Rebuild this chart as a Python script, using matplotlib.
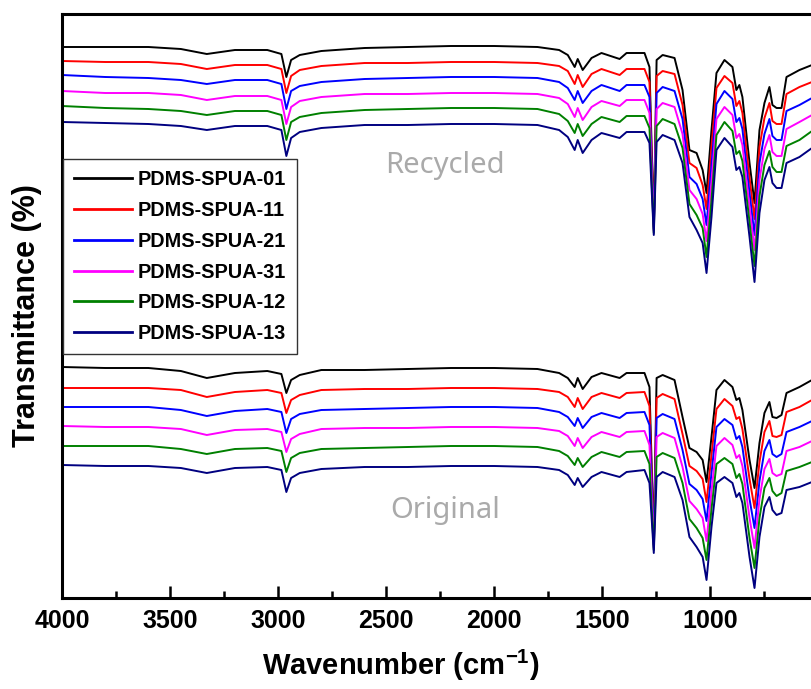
import numpy as np
import matplotlib
matplotlib.use("Agg")
import matplotlib.pyplot as plt
from matplotlib.ticker import MultipleLocator

# wavenumber grid (cm-1) shared by every spectrum
wavenumber = [4000, 3800, 3600, 3450, 3330, 3200, 3050, 2985, 2962, 2940, 2900, 2800,
              2600, 2400, 2200, 2000, 1800, 1700, 1660, 1628, 1614, 1591, 1550, 1504,
              1420, 1388, 1305, 1282, 1262, 1249, 1221, 1166, 1129, 1097, 1064, 1036,
              1018, 995, 972, 935, 898, 880, 866, 852, 819, 796, 773, 750, 727, 713,
              694, 671, 648, 588, 530]

labels = ["PDMS-SPUA-01", "PDMS-SPUA-11", "PDMS-SPUA-21",
          "PDMS-SPUA-31", "PDMS-SPUA-12", "PDMS-SPUA-13"]
colors = ["#000000", "#ff0000", "#0000ff", "#ff00ff", "#008000", "#000080"]

# recycled samples (stacked, a.u.)
rec_01 = [553, 553, 553, 551, 546, 550, 550, 546, 523, 540, 545, 549, 552, 553, 554, 554, 553, 550, 545, 533,
          541, 530, 542, 547, 541, 547, 547, 533, 375, 540, 545, 542, 510, 450, 447, 430, 407, 470, 527, 540,
          533, 510, 515, 503, 437, 397, 470, 497, 513, 495, 492, 492, 523, 530, 535]
rec_11 = [539, 538, 538, 536, 531, 535, 535, 531, 507, 524, 530, 534, 537, 537, 538, 538, 537, 534, 529, 516,
          525, 513, 526, 531, 525, 531, 531, 518, 373, 524, 529, 526, 495, 437, 432, 415, 391, 453, 512, 524,
          517, 494, 499, 487, 422, 381, 453, 482, 497, 479, 476, 476, 506, 513, 518]
rec_21 = [525, 523, 522, 520, 516, 520, 520, 516, 491, 509, 514, 518, 521, 522, 523, 523, 522, 518, 512, 500,
          509, 497, 509, 515, 509, 515, 515, 503, 371, 507, 513, 509, 481, 423, 416, 401, 375, 435, 496, 509,
          501, 478, 482, 471, 407, 365, 437, 466, 481, 464, 460, 460, 489, 495, 502]
rec_31 = [509, 507, 507, 505, 500, 504, 504, 500, 476, 493, 499, 503, 506, 506, 507, 507, 506, 502, 496, 483,
          492, 480, 493, 499, 494, 500, 500, 487, 369, 491, 497, 493, 466, 410, 401, 386, 359, 418, 481, 493,
          485, 462, 466, 455, 393, 350, 420, 451, 465, 448, 444, 444, 471, 478, 485]
rec_12 = [494, 492, 491, 489, 485, 489, 489, 485, 460, 478, 483, 487, 490, 491, 492, 492, 491, 486, 479, 467,
          476, 464, 476, 483, 478, 484, 484, 472, 367, 474, 481, 476, 452, 396, 385, 372, 343, 400, 465, 478,
          469, 446, 449, 439, 378, 334, 404, 435, 449, 433, 428, 428, 454, 460, 469]
rec_13 = [478, 477, 476, 474, 470, 474, 474, 470, 444, 462, 468, 472, 475, 475, 476, 476, 475, 470, 463, 450,
          460, 447, 460, 467, 462, 468, 468, 457, 365, 458, 465, 460, 437, 383, 370, 357, 327, 383, 450, 462,
          453, 430, 433, 423, 363, 318, 387, 420, 433, 417, 412, 412, 437, 443, 452]

# original samples (stacked, a.u.)
org_01 = [233, 232, 232, 229, 222, 227, 229, 226, 207, 220, 225, 230, 230, 231, 232, 232, 231, 227, 222, 213,
          222, 211, 223, 227, 222, 227, 227, 213, 60, 222, 225, 220, 183, 152, 148, 140, 118, 163, 210, 220,
          213, 200, 202, 190, 140, 112, 157, 187, 198, 183, 182, 185, 207, 213, 220]
org_11 = [212, 212, 212, 210, 203, 208, 210, 207, 187, 200, 205, 210, 211, 211, 212, 212, 211, 208, 203, 193,
          202, 191, 203, 207, 202, 207, 208, 194, 57, 202, 206, 201, 166, 134, 129, 121, 98, 145, 191, 201,
          194, 181, 183, 171, 121, 92, 138, 168, 179, 164, 163, 165, 188, 193, 200]
org_21 = [193, 193, 193, 190, 184, 189, 191, 188, 167, 181, 186, 190, 191, 192, 193, 193, 192, 188, 183, 174,
          182, 172, 183, 187, 182, 187, 188, 175, 55, 182, 186, 181, 150, 116, 110, 101, 79, 127, 173, 181,
          175, 161, 164, 153, 101, 72, 119, 149, 160, 146, 143, 146, 168, 173, 179]
org_31 = [174, 173, 173, 171, 165, 170, 171, 168, 148, 161, 166, 171, 172, 172, 173, 173, 172, 169, 164, 154,
          162, 152, 163, 168, 163, 168, 169, 155, 52, 163, 167, 162, 133, 99, 91, 82, 59, 109, 154, 162,
          155, 142, 145, 134, 82, 52, 101, 131, 141, 127, 124, 126, 149, 153, 159]
org_12 = [154, 154, 154, 151, 146, 151, 152, 149, 128, 142, 147, 151, 152, 153, 154, 154, 153, 149, 144, 135,
          142, 133, 143, 148, 143, 148, 149, 136, 50, 143, 147, 142, 117, 81, 72, 62, 40, 91, 136, 142,
          136, 122, 126, 116, 62, 32, 82, 112, 122, 109, 104, 107, 129, 133, 138]
org_13 = [135, 134, 134, 132, 127, 132, 133, 130, 108, 122, 127, 131, 133, 133, 134, 134, 133, 130, 125, 115,
          122, 113, 123, 128, 123, 128, 130, 117, 47, 123, 128, 123, 100, 63, 53, 43, 20, 73, 117, 123,
          117, 103, 107, 97, 43, 12, 63, 93, 103, 90, 85, 87, 110, 113, 118]

recycled = [rec_01, rec_11, rec_21, rec_31, rec_12, rec_13]
original = [org_01, org_11, org_21, org_31, org_12, org_13]

arial = ["Liberation Sans", "DejaVu Sans"]
plt.rcParams["axes.unicode_minus"] = False

fig = plt.figure(figsize=(8.12, 6.89), dpi=100)
ax = fig.add_axes([62 / 812, 1 - 598 / 689, 750 / 812, 584 / 689])

for ys, c, lab in zip(recycled, colors, labels):
    ax.plot(wavenumber, ys, color=c, lw=1.4, label=lab)
for ys, c in zip(original, colors):
    ax.plot(wavenumber, ys, color=c, lw=1.4)

ax.set_xlim(4000, 530)
ax.set_ylim(2, 586)
ax.xaxis.set_major_locator(MultipleLocator(500))
ax.xaxis.set_minor_locator(MultipleLocator(250))
ax.set_yticks([])
ax.tick_params(axis="x", which="major", direction="in", length=9, width=1.8, pad=8)
ax.tick_params(axis="x", which="minor", direction="in", length=5, width=1.8)
for lab in ax.get_xticklabels():
    lab.set_fontfamily(arial)
    lab.set_fontweight("bold")
    lab.set_fontsize(18)
for s in ["left", "bottom", "top"]:
    ax.spines[s].set_linewidth(2.2)
ax.spines["right"].set_visible(False)

ax.set_xlabel("Wavenumber (cm$^{\\mathregular{-1}}$)", family=arial, weight="bold", fontsize=21)
ax.xaxis.set_label_coords(0.452, -0.085)
ax.set_ylabel("Transmittance (%)", family=arial, weight="bold", fontsize=22)
ax.yaxis.set_label_coords(-0.026, 0.483)

ax.text(0.511, 0.741, "Recycled", transform=ax.transAxes, ha="center", va="center",
        fontsize=21, color="#aaaaaa", family=["Noto Sans", "DejaVu Sans"])
ax.text(0.511, 0.149, "Original", transform=ax.transAxes, ha="center", va="center",
        fontsize=21, color="#aaaaaa", family=["Noto Sans", "DejaVu Sans"])

leg = ax.legend(loc="upper left", bbox_to_anchor=(0.0015, 0.752), borderaxespad=0,
                prop={"family": arial, "weight": "bold", "size": 14.3},
                handlelength=2.9, handletextpad=0.3, labelspacing=0.6,
                borderpad=0.55, fancybox=False, framealpha=1)
leg.get_frame().set_edgecolor("#333333")
leg.get_frame().set_linewidth(1.0)
for h in leg.get_lines():
    h.set_linewidth(2)

plt.savefig("out.png", dpi=100)
